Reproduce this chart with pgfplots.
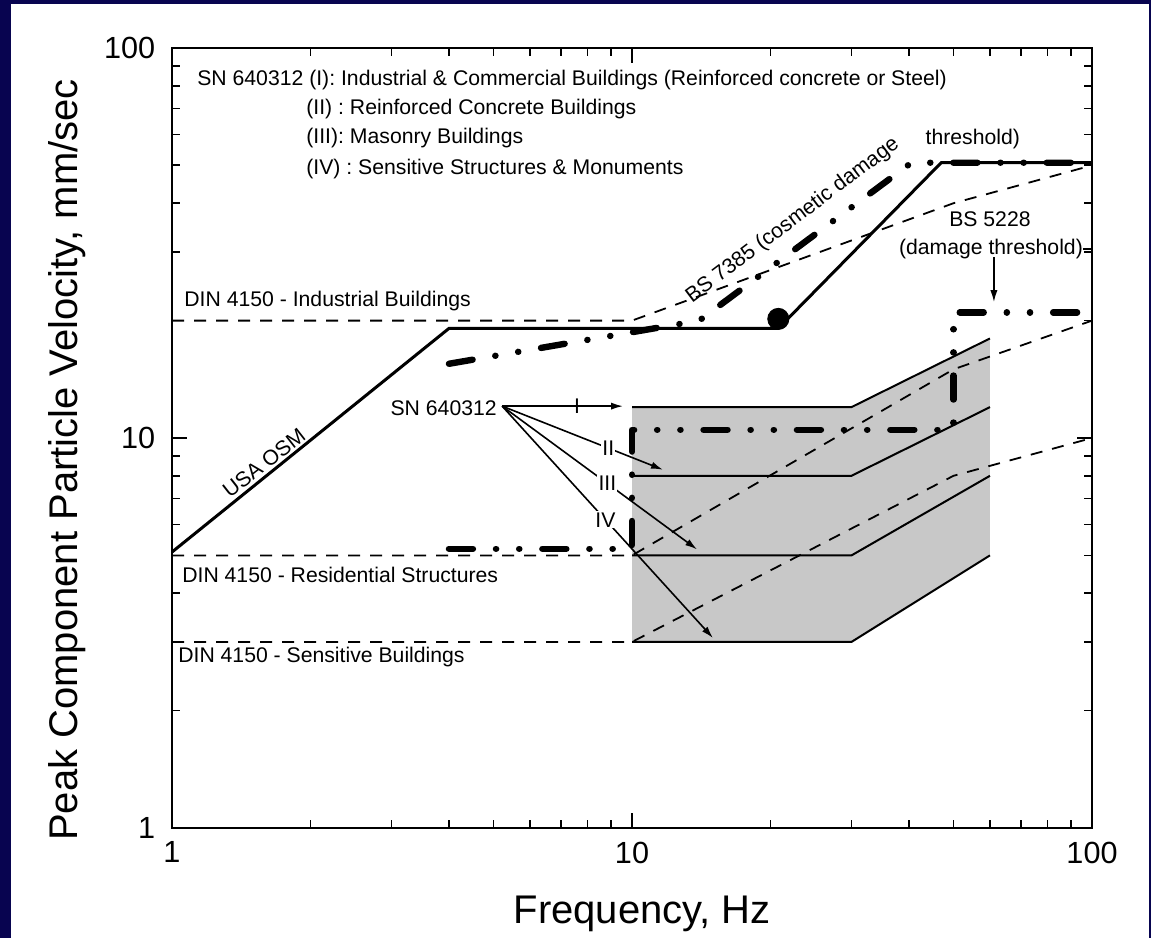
\documentclass[border=0pt]{standalone}
\usepackage{fontspec}
\setmainfont{Liberation Sans}
\usepackage{pgfplots}
\pgfplotsset{compat=1.18}
\usetikzlibrary{arrows.meta}
\definecolor{navy}{RGB}{8,4,80}
\definecolor{shade}{RGB}{200,200,200}
\newcommand{\ann}{\fontsize{10.6}{12.5}\selectfont}
\tikzset{
  heavydd/.style={black, line width=3.2pt, line cap=round, line join=round,
    dash pattern=on 12pt off 11.5pt on 0.1pt off 11.5pt on 0.1pt off 11.5pt},
  thindash/.style={black, line width=0.9pt, dash pattern=on 6pt off 5pt},
  thinsolid/.style={black, line width=1pt},
  annarrow/.style={black, line width=0.8pt, -{Latex[length=6pt,width=3.6pt]}},
  lab/.style={font=\ann, inner sep=0pt},
}
\begin{document}
\begin{tikzpicture}
\useasboundingbox (0,0) rectangle (575.5pt,469pt);
\fill[navy] (0,0) rectangle (575.5pt,469pt);
\fill[white] (5.5pt,0) rectangle (574.5pt,467pt);
\begin{axis}[
  at={(86pt,55pt)}, anchor=south west,
  scale only axis, width=460pt, height=390pt,
  xmode=log, ymode=log, xmin=1, xmax=100, ymin=1, ymax=100,
  xtick={1,10,100}, xticklabels={1,10,100},
  ytick={1,10,100}, yticklabels={1,10,100},
  tick align=inside, major tick length=7.5pt, minor tick length=4pt,
  every tick/.append style={black, line width=0.9pt},
  axis line style={line width=1.2pt},
  tick label style={font=\fontsize{15.3}{18}\selectfont},
  yticklabel style={xshift=-4.9pt},
  xticklabel style={yshift=-3.4pt},
  xlabel={Frequency, Hz},
  ylabel={Peak Component Particle Velocity, mm/sec},
  label style={font=\fontsize{20}{24}\selectfont},
  xlabel style={at={(axis description cs:0.511,-0.1218)}, anchor=base},
  ylabel style={at={(axis description cs:-0.1022,0.472)}, anchor=base},
  clip=false,
]
% SN 640312 shaded zone
\addplot[draw=none, fill=shade] coordinates {(10,12)(30,12)(60,18)(60,5)(30,3)(10,3)} -- cycle;

% DIN 4150 dashed lines
\addplot[thindash] coordinates {(1,20)(10,20)(50,40)(100,50)};
\addplot[thindash] coordinates {(1,5)(10,5)(50,15)(100,20)};
\addplot[thindash] coordinates {(1,3)(10,3)(50,8)(100,10)};

% SN 640312 class lines
\addplot[thinsolid] coordinates {(10,12)(30,12)(60,18)};
\addplot[thinsolid] coordinates {(10,8)(30,8)(60,12)};
\addplot[thinsolid] coordinates {(10,5)(30,5)(60,8)};
\addplot[thinsolid] coordinates {(10,3)(30,3)(60,5)};

% USA OSM
\addplot[black, line width=1.5pt] coordinates {(1,5.1)(4,19.1)(20.8,19.1)(47,50.8)(100,50.8)};
\addplot[only marks, mark=*, mark size=5.3pt, black] coordinates {(20.8,20.2)};

% BS 7385
\addplot[heavydd] coordinates {(4,15.5)(14,20)(40.5,50.8)(100,50.8)};
% BS 5228
\addplot[heavydd] coordinates {(4,5.2)(10,5.2)(10,10.5)(50,10.5)(50,21)(100,21)};

% text block
\node[lab, anchor=west] at (axis cs:1.133,82.9) {SN 640312 (I): Industrial \& Commercial Buildings (Reinforced concrete or Steel)};
\node[lab, anchor=west] at (axis cs:1.956,69.9) {(II) : Reinforced Concrete Buildings};
\node[lab, anchor=west] at (axis cs:1.956,58.6) {(III): Masonry Buildings};
\node[lab, anchor=west] at (axis cs:1.956,48.8) {(IV) : Sensitive Structures \& Monuments};

% DIN labels
\node[lab, anchor=west] at (axis cs:1.062,22.4) {DIN 4150 - Industrial Buildings};
\node[lab, anchor=west] at (axis cs:1.051,4.45) {DIN 4150 - Residential Structures};
\node[lab, anchor=west] at (axis cs:1.03,2.75) {DIN 4150 - Sensitive Buildings};

% rotated labels
\node[lab, rotate=38] at (axis cs:1.585,8.64) {USA OSM};
\node[lab, rotate=37] at (axis cs:23.8,35.4) [xshift=-4pt, yshift=5pt] {BS 7385 (cosmetic damage};
\node[lab, anchor=west] at (axis cs:43.4,58.3) {threshold)};

% BS 5228 label
\node[lab] at (axis cs:60,36.4) {BS 5228};
\node[lab] at (axis cs:60.3,30.5) {(damage threshold)};
\draw[black, line width=0.8pt] (axis cs:95.6,30.5) -- (axis cs:100,30.5);
\draw[annarrow] (axis cs:61.2,29.1) -- (axis cs:61.2,22.3);

% SN 640312 pointers
\node[lab, anchor=east] at (axis cs:5.09,11.9) {SN 640312};
\draw[annarrow] (axis cs:5.22,12.07) -- node[pos=0.62, lab] {I} (axis cs:9.56,12.07);
\draw[annarrow] (axis cs:5.22,12.07) -- node[pos=0.66, lab, fill=white, inner sep=0.6pt] {II} (axis cs:11.68,8.29);
\draw[annarrow] (axis cs:5.22,12.07) -- node[pos=0.54, lab, fill=white, inner sep=0.6pt] {III} (axis cs:13.85,5.18);
\draw[annarrow] (axis cs:5.22,12.07) -- node[pos=0.49, lab, fill=white, inner sep=0.6pt] {IV} (axis cs:15.0,3.07);
\end{axis}
\end{tikzpicture}
\end{document}
